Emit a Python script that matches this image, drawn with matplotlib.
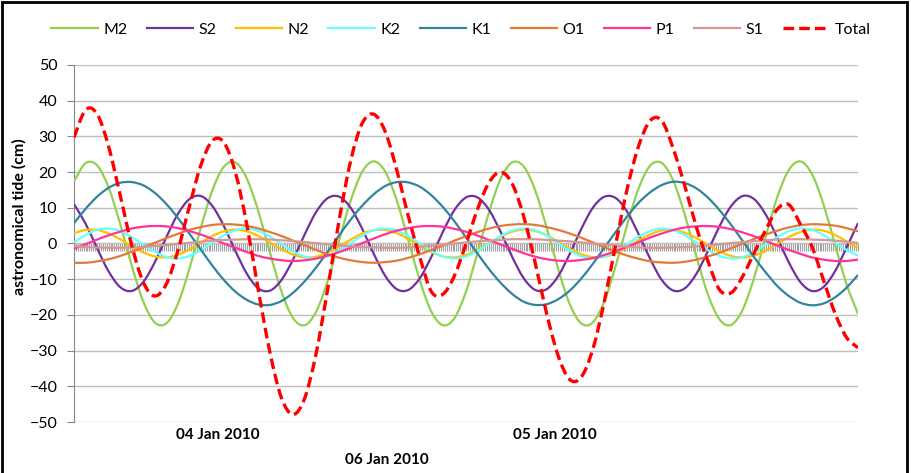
import numpy as np
import matplotlib
matplotlib.use("Agg")
import matplotlib.pyplot as plt
from matplotlib.ticker import MultipleLocator, NullFormatter
from matplotlib.patches import Rectangle, PathPatch
from matplotlib.path import Path

plt.rcParams['font.family'] = ['Lato', 'DejaVu Sans']

# ---------------- DATA (hourly astronomical tide per constituent, cm) ----------------
M2 = [17.4, 22.5, 21.9, 15.7, 5.5, -6.1, -16.2, -22.1, -22.4, -17.0,
      -7.2, 4.4, 14.9, 21.5, 22.7, 18.1, 8.9, -2.6, -13.5, -20.9,
      -22.9, -19.1, -10.5, 0.9, 12.0, 20.1, 23.0, 20.1, 12.0, 0.9,
      -10.4, -19.1, -22.9, -20.9, -13.5, -2.6, 8.8, 18.1, 22.7, 21.6,
      14.9, 4.4, -7.2, -17.0, -22.4, -22.1, -16.2, -6.1, 5.5, 15.7,
      21.9, 22.5, 17.4, 7.8, -3.8, -14.4, -21.3, -22.8, -18.5, -9.5,
      2.0, 13.0, 20.6, 23.0, 19.5, 11.0, -0.2, -11.4, -19.7]
S2 = [11.0, 5.6, -1.3, -7.8, -12.2, -13.3, -10.8, -5.3, 1.7, 8.2,
      12.4, 13.3, 10.5, 4.9, -2.1, -8.5, -12.6, -13.2, -10.2, -4.5,
      2.5, 8.8, 12.7, 13.1, 10.0, 4.1, -2.9, -9.1, -12.8, -13.0,
      -9.7, -3.7, 3.3, 9.4, 12.9, 12.9, 9.4, 3.3, -3.7, -9.7,
      -13.0, -12.8, -9.1, -2.9, 4.1, 10.0, 13.1, 12.7, 8.8, 2.4,
      -4.5, -10.3, -13.2, -12.5, -8.4, -2.0, 4.9, 10.5, 13.3, 12.4,
      8.1, 1.6, -5.3, -10.8, -13.3, -12.2, -7.8, -1.2, 5.7]
N2 = [2.9, 3.8, 3.8, 2.8, 1.2, -0.8, -2.5, -3.6, -3.9, -3.2,
      -1.7, 0.2, 2.1, 3.4, 3.9, 3.4, 2.1, 0.3, -1.6, -3.1,
      -3.9, -3.7, -2.5, -0.8, 1.1, 2.8, 3.7, 3.8, 2.9, 1.3,
      -0.6, -2.4, -3.6, -3.9, -3.2, -1.8, 0.1, 1.9, 3.3, 3.9,
      3.5, 2.3, 0.5, -1.5, -3.0, -3.8, -3.7, -2.7, -1.0, 1.0,
      2.6, 3.7, 3.8, 3.0, 1.5, -0.4, -2.2, -3.5, -3.9, -3.3,
      -2.0, -0.1, 1.8, 3.2, 3.9, 3.6, 2.4, 0.6, -1.3]
K2 = [0.3, 2.4, 3.8, 4.2, 3.5, 1.8, -0.3, -2.3, -3.8, -4.2,
      -3.5, -1.9, 0.2, 2.3, 3.7, 4.2, 3.5, 2.0, -0.2, -2.2,
      -3.7, -4.2, -3.6, -2.0, 0.1, 2.2, 3.7, 4.2, 3.6, 2.1,
      0.0, -2.1, -3.6, -4.2, -3.6, -2.1, 0.0, 2.1, 3.6, 4.2,
      3.7, 2.2, 0.1, -2.0, -3.6, -4.2, -3.7, -2.2, -0.2, 2.0,
      3.5, 4.2, 3.7, 2.3, 0.2, -1.9, -3.5, -4.2, -3.8, -2.3,
      -0.3, 1.8, 3.5, 4.2, 3.8, 2.4, 0.3, -1.8, -3.4]
K1 = [5.7, 9.7, 13.1, 15.6, 17.0, 17.2, 16.3, 14.2, 11.1, 7.2,
      2.8, -1.7, -6.2, -10.2, -13.5, -15.8, -17.1, -17.2, -16.1, -13.8,
      -10.6, -6.7, -2.3, 2.3, 6.7, 10.6, 13.8, 16.1, 17.2, 17.1,
      15.9, 13.5, 10.2, 6.2, 1.7, -2.8, -7.2, -11.0, -14.1, -16.3,
      -17.2, -17.0, -15.6, -13.2, -9.8, -5.7, -1.2, 3.3, 7.7, 11.5,
      14.4, 16.4, 17.3, 16.9, 15.4, 12.8, 9.3, 5.2, 0.7, -3.9,
      -8.1, -11.9, -14.7, -16.6, -17.3, -16.8, -15.1, -12.4, -8.8]
O1 = [-5.4, -5.4, -5.0, -4.4, -3.5, -2.3, -1.1, 0.2, 1.5, 2.7,
      3.8, 4.6, 5.2, 5.4, 5.3, 4.9, 4.2, 3.2, 2.1, 0.8,
      -0.5, -1.8, -3.0, -4.0, -4.7, -5.2, -5.4, -5.2, -4.8, -4.0,
      -3.0, -1.8, -0.6, 0.8, 2.0, 3.2, 4.2, 4.9, 5.3, 5.4,
      5.2, 4.6, 3.8, 2.8, 1.6, 0.3, -1.0, -2.3, -3.4, -4.3,
      -5.0, -5.3, -5.4, -5.1, -4.5, -3.6, -2.6, -1.3, 0.0, 1.3,
      2.5, 3.6, 4.5, 5.1, 5.4, 5.3, 5.0, 4.3, 3.4]
P1 = [-1.5, -0.2, 1.1, 2.3, 3.3, 4.2, 4.7, 4.9, 4.8, 4.3,
      3.5, 2.5, 1.3, 0.0, -1.2, -2.4, -3.5, -4.2, -4.7, -4.9,
      -4.7, -4.2, -3.4, -2.4, -1.2, 0.1, 1.4, 2.6, 3.6, 4.3,
      4.8, 4.9, 4.7, 4.1, 3.3, 2.2, 1.0, -0.3, -1.5, -2.7,
      -3.7, -4.4, -4.8, -4.9, -4.6, -4.1, -3.2, -2.1, -0.9, 0.4,
      1.7, 2.8, 3.8, 4.5, 4.8, 4.9, 4.6, 4.0, 3.1, 2.0,
      0.7, -0.6, -1.8, -2.9, -3.9, -4.5, -4.9, -4.9, -4.5]
S1 = [-0.7, -1.0, -1.1, -1.2, -1.2, -1.1, -0.9, -0.7, -0.4, -0.1,
      0.2, 0.5, 0.8, 1.0, 1.1, 1.2, 1.2, 1.1, 0.9, 0.7,
      0.4, 0.1, -0.2, -0.5, -0.8, -1.0, -1.1, -1.2, -1.2, -1.1,
      -0.9, -0.6, -0.3, 0.0, 0.3, 0.6, 0.8, 1.0, 1.2, 1.2,
      1.2, 1.0, 0.8, 0.6, 0.3, 0.0, -0.3, -0.6, -0.9, -1.1,
      -1.2, -1.2, -1.1, -1.0, -0.8, -0.5, -0.2, 0.1, 0.4, 0.7,
      0.9, 1.1, 1.2, 1.2, 1.1, 1.0, 0.8, 0.5, 0.2]
TOTAL = [29.7, 37.4, 36.3, 27.2, 13.6, -0.4, -10.8, -14.7, -11.4, -2.1,
         10.3, 21.9, 28.8, 28.3, 19.9, 5.1, -13.3, -30.6, -43.3, -47.9,
         -43.4, -30.8, -12.8, 6.6, 23.2, 33.7, 36.2, 31.3, 20.5, 7.6,
         -3.9, -13.5, -14.2, -9.0, -0.1, 9.6, 17.1, 20.0, 16.8, 7.6,
         -5.4, -19.7, -31.5, -38.1, -37.4, -29.6, -16.2, 0.0, 15.6, 27.6,
         34.5, 34.3, 26.3, 15.9, 4.4, -5.1, -13.0, -13.8, -9.2, -2.6,
         3.8, 9.6, 10.9, 5.4, -0.8, -10.2, -19.5, -26.3, -29.2]

NAMES = ["M2", "S2", "N2", "K2", "K1", "O1", "P1", "S1", "Total"]
DATE_LABELS = ["04 Jan 2010", "06 Jan 2010", "05 Jan 2010"]
DATE_TICKS = [12.5, 27.1, 41.7]   # hour index where Excel put the labels

COLORS = ["#92D050", "#7030A0", "#FFC000", "#66FFFF", "#31849B",
          "#E07B39", "#FF3399", "#D99694", "#FF0000"]


def smooth_path(x, y):
    """Excel-style smoothed line: cubic Bezier segments through every point."""
    n = len(x)
    verts = [(x[0], y[0])]
    codes = [Path.MOVETO]
    for i in range(n - 1):
        a = max(i - 1, 0)
        b = min(i + 2, n - 1)
        c1 = (x[i] + (x[i + 1] - x[a]) / 6, y[i] + (y[i + 1] - y[a]) / 6)
        c2 = (x[i + 1] - (x[b] - x[i]) / 6, y[i + 1] - (y[b] - y[i]) / 6)
        verts += [c1, c2, (x[i + 1], y[i + 1])]
        codes += [Path.CURVE4] * 3
    return Path(verts, codes)


# ---------------- PLOT ----------------
fig = plt.figure(figsize=(9.11, 4.73), dpi=100)
ax = fig.add_axes([74 / 911, 1 - 422 / 473, 784 / 911, 357 / 473])

hours = np.arange(len(M2))
series = [M2, S2, N2, K2, K1, O1, P1, S1, TOTAL]
for name, vals, col in zip(NAMES, series, COLORS):
    if name == "Total":
        style = dict(lw=2.4, ls=(0, (3.2, 1.5)), zorder=4)
    else:
        style = dict(lw=1.6, ls='-', zorder=3)
    ax.add_patch(PathPatch(smooth_path(hours, vals), fill=False, ec=col,
                           joinstyle='round', capstyle='butt', **style))
    ax.plot([], [], color=col, lw=style['lw'], ls=style['ls'], label=name)

ax.set_xlim(0, hours[-1])
ax.set_ylim(-50, 50)
ax.yaxis.set_major_locator(MultipleLocator(10))
ax.grid(axis='y', color='#BFBFBF', lw=1)
ax.set_axisbelow(True)
for s in ['top', 'right', 'bottom']:
    ax.spines[s].set_visible(False)
ax.spines['left'].set_color('#868686')
ax.tick_params(axis='y', direction='out', length=5, color='#868686', labelsize=11.5, pad=7)

ax.set_xticks(DATE_TICKS)
ax.set_xticklabels([DATE_LABELS[0], "\n" + DATE_LABELS[1], DATE_LABELS[2]],
                   fontweight='bold', fontsize=11)
ax.get_xticklabels()[1].set_linespacing(2.0)
ax.tick_params(axis='x', length=0, pad=4)
ax.set_ylabel("astronomical tide (cm)", fontweight='bold', fontsize=11.5)
ax.yaxis.set_label_coords(-0.061, 0.574)

# category axis crossing at zero with dense tick marks
sec = ax.secondary_xaxis(0.5)
sec.xaxis.set_major_locator(MultipleLocator(1 / 6))
sec.xaxis.set_major_formatter(NullFormatter())
sec.tick_params(axis='x', direction='in', length=6, width=0.8, color='#A0A0A0')
sec.spines['bottom'].set_color('#A0A0A0')
sec.spines['top'].set_color('#A0A0A0')

fig.legend(loc='center', bbox_to_anchor=(0.506, 0.937), ncol=9, frameon=False,
           fontsize=11.5, handlelength=2.9, handletextpad=0.35, columnspacing=1.2)

fig.add_artist(Rectangle((2 / 911, -0.02), 905 / 911, 1.0 - 2 / 473 + 0.02,
                         transform=fig.transFigure, fill=False, ec='black', lw=2))

fig.savefig("out.png", dpi=100)
